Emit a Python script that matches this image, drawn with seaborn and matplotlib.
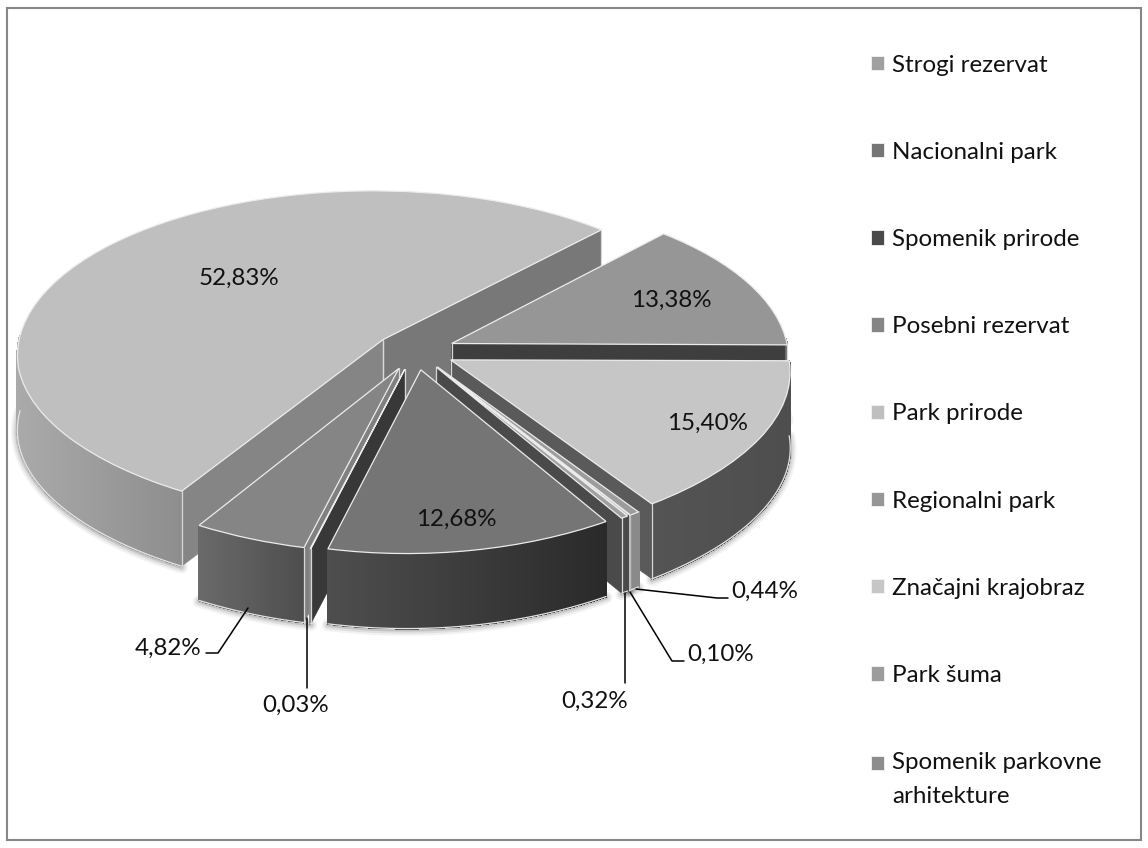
import numpy as np
import matplotlib
matplotlib.use("Agg")
import matplotlib.pyplot as plt
from matplotlib.collections import PolyCollection
from matplotlib.legend_handler import HandlerPatch
from matplotlib.patches import Polygon, Rectangle
from matplotlib.transforms import Transform
import seaborn as sns

categories = ["Strogi rezervat", "Nacionalni park", "Spomenik prirode", "Posebni rezervat",
              "Park prirode", "Regionalni park", "Značajni krajobraz", "Park šuma",
              "Spomenik parkovne\narhitekture"]
values = [0.32, 12.68, 0.03, 4.82, 52.83, 13.38, 15.40, 0.44, 0.10]

top_colors = ["#a0a0a0", "#757575", "#4a4a4a", "#858585", "#bfbfbf", "#969696", "#c6c6c6", "#9c9c9c", "#8c8c8c"]
wall_left = ["#4c4c4c", "#4e4e4e", "#8a8a8a", "#6a6a6a", "#aaaaaa", "#6a6a6a", "#545454", "#8a8a8a", "#bdbdbd"]
wall_right = ["#4a4a4a", "#2a2a2a", "#8a8a8a", "#4e4e4e", "#8e8e8e", "#6a6a6a", "#4e4e4e", "#8a8a8a", "#bdbdbd"]
face_min = ["#4a4a4a", "#3a3a3a", "#808080", "#6a6a6a", "#787878", "#3e3e3e", "#5a5a5a", "#5a5a5a", "#8c8c8c"]
face_max = ["#484848", "#5a5a5a", "#383838", "#808080", "#858585", "#5e5e5e", "#3e3e3e", "#5a5a5a", "#8c8c8c"]

sns.set_theme(style="white")
plt.rcParams["font.family"] = ["Lato", "DejaVu Sans"]
FS = 17.4
TXT = "#111111"

fig = plt.figure(figsize=(11.48, 8.48), dpi=100)
ax = fig.add_axes([0, 0, 1, 1])


class Tilt(Transform):
    """Perspective view of the unit pie plane, in pixel-like axes units."""
    input_dims = output_dims = 2
    is_separable = False
    has_inverse = False
    cx, cy, B, A, p, q, r = 415.0, 351.0, 351.0, 163.6, 0.09, 0.035, 0.05

    def transform_non_affine(self, xy):
        xy = np.asarray(xy, float)
        u, v = xy[:, 0], xy[:, 1]
        d = 1 + self.p * v + self.q * u
        narrow = 1 - self.r * np.minimum(v, 0) ** 2
        return np.column_stack([self.cx + self.B * narrow * u / d, self.cy - self.A * v / d])


tilt = Tilt()
DEPTH = 75.0

wedges, _ = ax.pie(values, colors=sns.color_palette(top_colors, n_colors=9), startangle=-57.8,
                   counterclock=False, explode=[0.115] * len(values), radius=1,
                   wedgeprops=dict(edgecolor="#ececec", linewidth=0.9))
ax.set_aspect("auto")
ax.set_xlim(0, 1148)
ax.set_ylim(848, 0)
ax.axis("off")

# back-to-front order
order = sorted(range(len(values)),
               key=lambda i: -np.sin(np.radians((wedges[i].theta1 + wedges[i].theta2) / 2)))

for rank, i in enumerate(order):
    w = wedges[i]
    z = 10 + rank * 2
    w.set_transform(tilt + ax.transData)
    w.set_zorder(z + 1)
    w.set_clip_on(False)
    c = np.array(w.center)
    th = np.radians(np.linspace(w.theta1, w.theta2, max(6, int(w.theta2 - w.theta1) * 2)))
    arc = tilt.transform(np.column_stack([c[0] + w.r * np.cos(th), c[1] + w.r * np.sin(th)]))
    apex = tilt.transform(c[None, :])[0]
    down = np.array([0, DEPTH])
    visible = np.sin(th) < 0.03  # the part of the rim that faces the viewer
    front = arc[visible]

    # soft shadow beneath the outer wall
    if len(front) > 1:
        for lw, al in [(9, 0.05), (6, 0.08), (3, 0.12)]:
            ax.plot(front[:, 0], front[:, 1] + DEPTH + 1, color="#000000", lw=lw, alpha=al,
                    zorder=2, solid_capstyle="round")

    # radial cut faces that point towards the viewer
    for pt, col, shown in [(arc[0], face_min[i], np.cos(th[0]) > 0),
                           (arc[-1], face_max[i], np.cos(th[-1]) < 0)]:
        if not shown:
            continue
        ax.add_patch(Polygon([apex, pt, pt + down, apex + down], closed=True, facecolor=col,
                             edgecolor=col, linewidth=0.4, zorder=z, clip_on=False))
        ax.plot([pt[0]] * 2, [pt[1], pt[1] + DEPTH], color="#d8d8d8", lw=0.9, zorder=z + 0.5)
        ax.plot([apex[0]] * 2, [apex[1], apex[1] + DEPTH], color="#d8d8d8", lw=0.9, zorder=z + 0.2)

    # outer wall, shaded left to right
    if len(front) > 1:
        quads, cols = [], []
        c0 = np.array(matplotlib.colors.to_rgb(wall_left[i]))
        c1 = np.array(matplotlib.colors.to_rgb(wall_right[i]))
        xmin, xmax = front[:, 0].min(), front[:, 0].max()
        for a, b in zip(front[:-1], front[1:]):
            quads.append([a, b, b + down, a + down])
            t = ((a[0] + b[0]) / 2 - xmin) / max(xmax - xmin, 1)
            cols.append(tuple(c0 + (c1 - c0) * t))
        ax.add_collection(PolyCollection(quads, facecolors=cols, edgecolors=cols, linewidths=0.8,
                                         antialiaseds=False, zorder=z + 0.3, clip_on=False))
        ax.plot(front[:, 0], front[:, 1] + DEPTH, color="#e4e4e4", lw=0.9, zorder=z + 0.4)

# value labels
labels = [f"{v:.2f}".replace(".", ",") + "%" for v in values]
label_pos = [(595, 701), (456, 519), (296, 705), (168, 648), (239, 278),
             (671, 300), (707, 423), (765, 591), (721, 654)]
for s, (x, y) in zip(labels, label_pos):
    ax.text(x, y, s, fontsize=FS, color=TXT, ha="center", va="center", zorder=60)

# leader lines
leaders = [[(636, 589), (717, 598), (728, 598)],
           [(630, 592), (672, 661), (684, 661)],
           [(625, 593), (625, 683)],
           [(307, 618), (307, 688)],
           [(248, 608), (218, 653), (206, 653)]]
for pts in leaders:
    xs, ys = zip(*pts)
    ax.plot(xs, ys, color="#000000", lw=1.1, zorder=61)

# chart frame
ax.add_patch(Rectangle((6.5, 7.5), 1134, 832, fill=False, edgecolor="#868686", linewidth=1.5, zorder=70))


class ShiftedSwatch(HandlerPatch):
    """Square swatch; multi-line labels keep it beside their first line."""
    def __init__(self, shift=0.0, **kw):
        super().__init__(**kw)
        self.shift = shift

    def create_artists(self, legend, orig, xd, yd, width, height, fontsize, trans):
        p = Rectangle((-xd, -yd + self.shift), width, height, facecolor=orig.get_facecolor(),
                      edgecolor="#f4f4f4", linewidth=0.6, transform=trans)
        return [p]


handles = [Rectangle((0, 0), 1, 1, facecolor=c) for c in top_colors]
hmap = {h: ShiftedSwatch() for h in handles}
hmap[handles[-1]] = ShiftedSwatch(shift=11.9)
leg = ax.legend(handles, categories, handler_map=hmap, loc="upper left",
                bbox_to_anchor=(871 / 1148, 1 - 54.5 / 848), bbox_transform=fig.transFigure,
                frameon=False, fontsize=FS, labelspacing=2.74, handlelength=0.535, handleheight=0.535,
                handletextpad=0.33, borderpad=0, borderaxespad=0, labelcolor=TXT)
leg.set_zorder(65)
leg.get_texts()[-1].set_linespacing(1.75)

fig.savefig("out.png", dpi=100, facecolor="white")
